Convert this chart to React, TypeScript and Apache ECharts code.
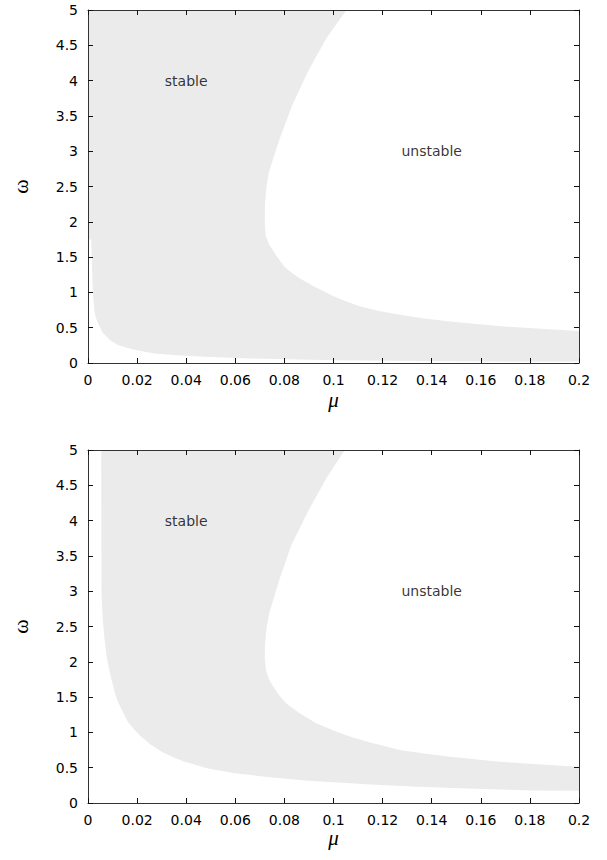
import React, { useEffect, useRef } from "react";
import * as echarts from "echarts";

// Axis ranges
const muRange = [0, 0.2];
const omegaRange = [0, 5];
const muStep = 0.02;
const omegaStep = 0.5;

// Panel 1 (top): stable-region boundaries, [mu, omega]
const p1LeftEdge: number[][] = [
  [0, 5], [0, 1.75],
];
const p1LowerCurve: number[][] = [
  [0.0013, 1.75], [0.0016, 1.4], [0.0019, 1.1], [0.0022, 0.9], [0.0027, 0.72],
  [0.0032, 0.64], [0.004, 0.57], [0.006, 0.43], [0.0088, 0.33], [0.0122, 0.255],
  [0.0183, 0.19], [0.027, 0.135], [0.036, 0.11], [0.048, 0.09], [0.066, 0.065],
  [0.1, 0.04], [0.15, 0.025], [0.2, 0.02],
];
const p1UpperCurve: number[][] = [
  [0.1053, 5], [0.0971, 4.6], [0.0896, 4.13], [0.0832, 3.65], [0.0781, 3.18],
  [0.0737, 2.71], [0.0727, 2.5], [0.0721, 2.25], [0.072, 2.0], [0.0724, 1.8],
  [0.0738, 1.68], [0.0767, 1.52], [0.0801, 1.36], [0.0832, 1.27], [0.0862, 1.2],
  [0.0917, 1.09], [0.0998, 0.95], [0.105, 0.875], [0.1107, 0.805], [0.118, 0.74],
  [0.127, 0.682], [0.137, 0.63], [0.1474, 0.587], [0.1705, 0.514], [0.2, 0.452],
];

// Panel 2 (bottom): stable-region boundaries, [mu, omega]
const p2LowerCurve: number[][] = [
  [0.0054, 5], [0.0055, 3.0], [0.006, 2.6], [0.0068, 2.3], [0.0077, 2.05],
  [0.0088, 1.86], [0.0108, 1.58], [0.012, 1.45], [0.0135, 1.34], [0.0162, 1.15],
  [0.0188, 1.04], [0.0217, 0.94], [0.0255, 0.83], [0.0298, 0.73], [0.0345, 0.65],
  [0.0393, 0.585], [0.0489, 0.49], [0.0597, 0.42], [0.0733, 0.37], [0.0883, 0.32],
  [0.1134, 0.265], [0.1338, 0.23], [0.161, 0.198], [0.1814, 0.178], [0.2, 0.175],
];
const p2UpperCurve: number[][] = [
  [0.1046, 5], [0.0971, 4.6], [0.0896, 4.13], [0.0828, 3.65], [0.0781, 3.18],
  [0.074, 2.71], [0.0728, 2.5], [0.0721, 2.25], [0.072, 2.05], [0.0725, 1.88],
  [0.0736, 1.76], [0.0754, 1.65], [0.0778, 1.53], [0.0808, 1.41], [0.0862, 1.27],
  [0.093, 1.13], [0.0998, 1.03], [0.106, 0.95], [0.1134, 0.87], [0.127, 0.75],
  [0.137, 0.7], [0.1474, 0.656], [0.1678, 0.585], [0.1814, 0.552], [0.2, 0.514],
];

// Region labels
const regionNames = ["stable", "unstable"];
const regionMu = [0.04, 0.14];
const regionOmega = [4, 3];

const xName = "μ";
const yName = "ω";

const GRAY = "#ebebeb";
const AXIS = "#333";
const FONT = "DejaVu Sans";

function stablePolygon(lowerCurve: number[][], upperCurve: number[][], leftEdge: number[][]) {
  return [...leftEdge, ...lowerCurve, ...upperCurve.slice().reverse()];
}

export default function App() {
  const ref = useRef<HTMLDivElement>(null);

  useEffect(() => {
    if (!ref.current) return;
    const chart = echarts.init(ref.current, undefined, { renderer: "svg" });

    const grids = [
      { left: 88, right: 28, top: 10, height: 353 },
      { left: 88, right: 28, top: 450, height: 353 },
    ];
    const xNameGaps = [26, 18];

    const xAxes: any[] = [];
    const yAxes: any[] = [];
    grids.forEach((_, gi) => {
      const common = {
        type: "value",
        gridIndex: gi,
        splitLine: { show: false },
        axisLine: { show: true, onZero: false, lineStyle: { color: AXIS, width: 1 } },
        axisTick: { show: true, inside: true, length: 5, lineStyle: { color: "#111", width: 1 } },
        z: 5,
      };
      xAxes.push({
        ...common,
        position: "bottom",
        min: muRange[0],
        max: muRange[1],
        interval: muStep,
        name: xName,
        nameLocation: "middle",
        nameGap: xNameGaps[gi],
        nameTextStyle: { fontFamily: "Liberation Serif", fontStyle: "italic", fontSize: 21, color: "#000" },
        axisLabel: { show: true, margin: 10, color: "#000", fontSize: 14, fontFamily: FONT },
      });
      xAxes.push({
        ...common,
        position: "top",
        min: muRange[0],
        max: muRange[1],
        interval: muStep,
        axisLabel: { show: false },
      });
      yAxes.push({
        ...common,
        position: "left",
        min: omegaRange[0],
        max: omegaRange[1],
        interval: omegaStep,
        name: yName,
        nameLocation: "middle",
        nameRotate: 90,
        nameGap: 57,
        nameTextStyle: { fontFamily: "Liberation Serif", fontSize: 22, color: "#000" },
        axisLabel: { show: true, margin: 10, color: "#000", fontSize: 14, fontFamily: FONT },
      });
      yAxes.push({
        ...common,
        position: "right",
        min: omegaRange[0],
        max: omegaRange[1],
        interval: omegaStep,
        axisLabel: { show: false },
      });
    });

    const polys = [
      stablePolygon(p1LowerCurve, p1UpperCurve, p1LeftEdge),
      stablePolygon(p2LowerCurve, p2UpperCurve, []),
    ];

    const series: any[] = [];
    polys.forEach((pts, gi) => {
      series.push({
        type: "custom",
        xAxisIndex: gi * 2,
        yAxisIndex: gi * 2,
        data: [[0.1, 2.5]],
        clip: true,
        silent: true,
        z: 1,
        renderItem: (_params: any, api: any) => ({
          type: "polygon",
          shape: { points: pts.map((p) => api.coord(p)) },
          style: { fill: GRAY, stroke: null },
        }),
      });
      series.push({
        type: "scatter",
        xAxisIndex: gi * 2,
        yAxisIndex: gi * 2,
        symbolSize: 0,
        silent: true,
        z: 3,
        data: regionNames.map((n, i) => ({ name: n, value: [regionMu[i], regionOmega[i]] })),
        label: {
          show: true,
          position: "inside",
          formatter: "{b}",
          color: "#000",
          fontSize: 14,
          fontFamily: FONT,
        },
      });
    });

    chart.setOption({
      animation: false,
      backgroundColor: "#fff",
      grid: grids,
      xAxis: xAxes,
      yAxis: yAxes,
      series,
    });

    return () => chart.dispose();
  }, []);

  return (
    <div
      ref={ref}
      style={{ position: "fixed", left: 0, top: 0, width: 607, height: 860 }}
    />
  );
}
